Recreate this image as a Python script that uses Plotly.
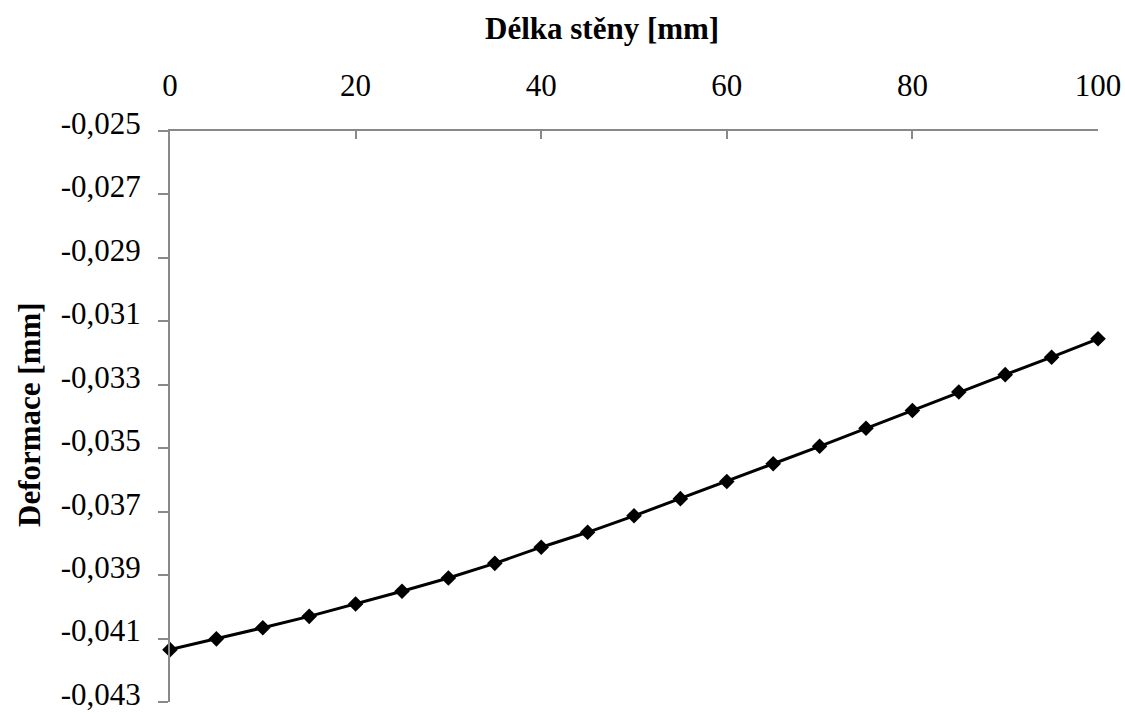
import plotly.graph_objects as go

# Data
wall_length_mm = [0, 5, 10, 15, 20, 25, 30, 35, 40, 45, 50,
                  55, 60, 65, 70, 75, 80, 85, 90, 95, 100]
deformation_mm = [-0.04135, -0.04101, -0.04066, -0.04030, -0.03991, -0.03951,
                  -0.03909, -0.03863, -0.03812, -0.03765, -0.03713, -0.03659,
                  -0.03605, -0.03549, -0.03494, -0.03437, -0.03381, -0.03323,
                  -0.03268, -0.03213, -0.03155]

x_tick_vals = [0, 20, 40, 60, 80, 100]
x_tick_labels = ["0", "20", "40", "60", "80", "100"]
y_tick_vals = [-0.025, -0.027, -0.029, -0.031, -0.033, -0.035,
               -0.037, -0.039, -0.041, -0.043]
y_tick_labels = ["-0,025", "-0,027", "-0,029", "-0,031", "-0,033", "-0,035",
                 "-0,037", "-0,039", "-0,041", "-0,043"]

x_title = "Délka stěny [mm]"
y_title = "Deformace [mm]"

FONT = "Liberation Serif, Times New Roman, serif"
AXIS_COLOR = "#898989"

fig = go.Figure()
fig.add_trace(go.Scatter(
    x=wall_length_mm, y=deformation_mm,
    mode="lines+markers",
    line=dict(color="black", width=3),
    marker=dict(symbol="diamond", size=12, color="black"),
    showlegend=False,
    cliponaxis=False,
))

fig.update_layout(
    width=1125, height=716,
    margin=dict(l=170, r=27, t=131, b=14),
    paper_bgcolor="white", plot_bgcolor="white",
    font=dict(family=FONT, size=31, color="black"),
    xaxis=dict(
        side="top", range=[0, 100],
        tickvals=x_tick_vals, ticktext=x_tick_labels,
        showgrid=False, zeroline=False,
        showline=True, linecolor=AXIS_COLOR, linewidth=2,
        ticks="inside", ticklen=8, tickcolor=AXIS_COLOR, tickwidth=2,
        tickfont=dict(family=FONT, size=31, color="black"),
        ticklabelstandoff=21,
        ticklabeloverflow="allow",
        automargin=False,
    ),
    yaxis=dict(
        range=[-0.043, -0.025],
        tickvals=y_tick_vals, ticktext=y_tick_labels,
        showgrid=False, zeroline=False,
        showline=True, linecolor=AXIS_COLOR, linewidth=2,
        ticks="outside", ticklen=10, tickcolor=AXIS_COLOR, tickwidth=2,
        tickfont=dict(family=FONT, size=31, color="black"),
        ticklabelstandoff=11,
        ticklabelshift=-8,
        ticklabeloverflow="allow",
        automargin=False,
    ),
    annotations=[
        dict(text="<b>" + x_title + "</b>", xref="paper", yref="paper",
             x=(602 - 170) / (1098 - 170), y=1 + (131 - 28) / (702 - 131),
             xanchor="center", yanchor="middle", showarrow=False,
             font=dict(family=FONT, size=31, color="black")),
        dict(text="<b>" + y_title + "</b>", xref="paper", yref="paper",
             x=-(170 - 29) / (1098 - 170), y=(702 - 415) / (702 - 131),
             xanchor="center", yanchor="middle", textangle=-90, showarrow=False,
             font=dict(family=FONT, size=31, color="black")),
    ],
)

fig.write_html("out.html")
